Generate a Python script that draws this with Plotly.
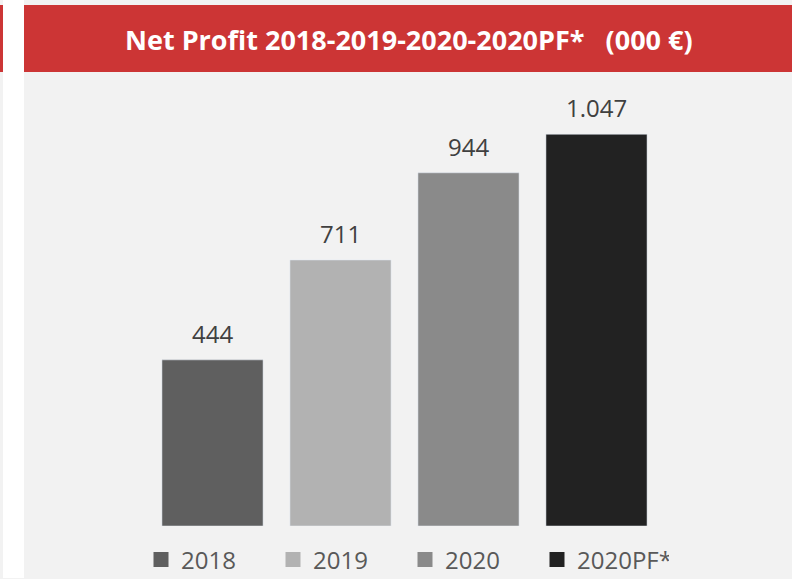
import plotly.graph_objects as go

# Data
categories = ["2018", "2019", "2020", "2020PF*"]
net_profit = [444, 711, 944, 1047]
colors = ["#5f5f5f", "#b2b2b2", "#8a8a8a", "#222222"]
title_text = "Net Profit 2018-2019-2020-2020PF*   (000 €)"

W, H = 792, 579
L, R, T, B = 24, 792, 77, 526  # plot area in pixels
CAT0, STEP = 212.5, 128.0       # pixel centre of first category, spacing

def px(x):
    return (x - L) / (R - L)

def py(y):
    return (B - y) / (B - T)

x_lo = (L - CAT0) / STEP
x_hi = (R - CAT0) / STEP

fig = go.Figure()
for cat, val, col in zip(categories, net_profit, colors):
    fig.add_trace(go.Bar(x=[cat], y=[val], marker_color=col, showlegend=False,
                         hoverinfo="skip"))
    fig.add_trace(go.Scatter(
        x=[None], y=[None], mode="markers", name=cat,
        marker=dict(symbol="square", size=15, color=col),
    ))

annotations = [
    dict(x=i, y=val, xref="x", yref="y", text=f"{val:,}".replace(",", "."),
         showarrow=False, yanchor="bottom", xanchor="center", yshift=8,
         font=dict(family="Open Sans", size=24, color="#404040"))
    for i, val in enumerate(net_profit)
]
annotations.append(dict(text="<b>" + title_text + "</b>", xref="paper", yref="paper",
                        x=px(408.5), y=py(40), xanchor="center", yanchor="middle",
                        showarrow=False, font=dict(family="Open Sans", size=27, color="white")))

shapes = [
    dict(type="rect", xref="paper", yref="paper", x0=px(3), x1=px(24), y0=py(578), y1=py(0),
         fillcolor="white", line_width=0, layer="below"),
    dict(type="rect", xref="paper", yref="paper", x0=px(0), x1=px(3), y0=py(72), y1=py(5),
         fillcolor="#cc3535", line_width=0, layer="below"),
    dict(type="rect", xref="paper", yref="paper", x0=px(24), x1=px(792), y0=py(72), y1=py(5),
         fillcolor="#cc3535", line_width=0, layer="below"),
]

fig.update_layout(
    width=W, height=H,
    margin=dict(l=L, r=W - R, t=T, b=H - B, pad=0, autoexpand=False),
    paper_bgcolor="#f2f2f2", plot_bgcolor="#f2f2f2",
    bargap=0.21,
    shapes=shapes,
    annotations=annotations,
    xaxis=dict(type="category", categoryarray=categories, range=[x_lo, x_hi],
               showticklabels=False, showgrid=False, zeroline=False, showline=False),
    yaxis=dict(range=[0, 1200], showticklabels=False, showgrid=False, zeroline=False, showline=False),
    legend=dict(orientation="h", x=px(405), xanchor="center", y=py(560), yanchor="middle",
                font=dict(family="Open Sans", size=24, color="#595959"),
                bgcolor="rgba(0,0,0,0)", itemwidth=30, tracegroupgap=0,
                entrywidth=87, entrywidthmode="pixels"),
    showlegend=True,
)

fig.write_html("out.html", config={"displayModeBar": False},
               post_script="document.body.style.margin='0';document.body.style.overflow='hidden';")
